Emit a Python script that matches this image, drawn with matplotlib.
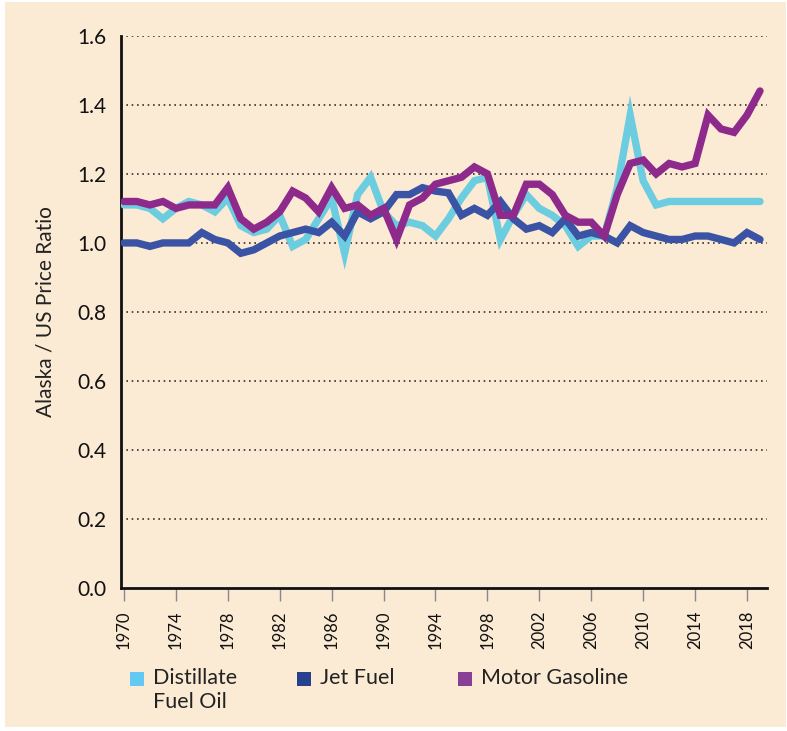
import numpy as np
import matplotlib
matplotlib.use("Agg")
import matplotlib.pyplot as plt
from matplotlib.patches import Rectangle

plt.rcParams['font.family'] = ['Lato', 'DejaVu Sans']

years = np.arange(1970, 2020)

distillate = [1.11, 1.11, 1.10, 1.07, 1.10, 1.12, 1.11, 1.09, 1.13, 1.05,
              1.03, 1.04, 1.08, 0.99, 1.01, 1.07, 1.13, 0.97, 1.14, 1.19,
              1.09, 1.05, 1.06, 1.05, 1.02, 1.07, 1.13, 1.18, 1.19, 1.01,
              1.08, 1.14, 1.10, 1.08, 1.05, 0.99, 1.02, 1.02, 1.16, 1.37,
              1.18, 1.11, 1.12, 1.12, 1.12, 1.12, 1.12, 1.12, 1.12, 1.12]

jet_fuel = [1.00, 1.00, 0.99, 1.00, 1.00, 1.00, 1.03, 1.01, 1.00, 0.97,
            0.98, 1.00, 1.02, 1.03, 1.04, 1.03, 1.06, 1.02, 1.09, 1.07,
            1.09, 1.14, 1.14, 1.16, 1.15, 1.145, 1.08, 1.10, 1.08, 1.12,
            1.07, 1.04, 1.05, 1.03, 1.07, 1.02, 1.03, 1.02, 1.00, 1.05,
            1.03, 1.02, 1.01, 1.01, 1.02, 1.02, 1.01, 1.00, 1.03, 1.01]

motor_gasoline = [1.12, 1.12, 1.11, 1.12, 1.10, 1.11, 1.11, 1.11, 1.16, 1.07,
                  1.04, 1.06, 1.09, 1.15, 1.13, 1.09, 1.16, 1.10, 1.11, 1.08,
                  1.10, 1.01, 1.11, 1.13, 1.17, 1.18, 1.19, 1.22, 1.20, 1.08,
                  1.08, 1.17, 1.17, 1.14, 1.08, 1.06, 1.06, 1.02, 1.14, 1.23,
                  1.24, 1.20, 1.23, 1.22, 1.23, 1.37, 1.33, 1.32, 1.37, 1.44]

labels = ["Distillate\nFuel Oil", "Jet Fuel", "Motor Gasoline"]
line_colors = ["#6dcde0", "#3a53a5", "#8e2a8c"]
swatch_colors = ["#62c9f3", "#263f8e", "#8a3f97"]

y_ticks = np.arange(0, 1.61, 0.2)
x_ticks = np.arange(1970, 2019, 4)

bg = "#fcebd4"
W, H = 787, 731
fig = plt.figure(figsize=(W / 100, H / 100), dpi=100, facecolor="white")
# beige panel behind everything
fig.patches.append(Rectangle((5 / W, 4 / H), 781 / W, 725 / H,
                             transform=fig.transFigure, facecolor=bg,
                             edgecolor="none", zorder=-10))

ax = fig.add_axes([120.7 / W, 1 - 588.3 / H, (767 - 120.7) / W, (588.3 - 35.7) / H])
ax.set_facecolor(bg)

for vals, col in zip([distillate, jet_fuel, motor_gasoline], line_colors):
    ax.plot(years, vals, color=col, lw=5.3, solid_capstyle="round",
            solid_joinstyle="miter", zorder=3)

ax.set_xlim(1969.75, 2019.54)
ax.set_ylim(0, 1.6)
ax.set_yticks(y_ticks)
ax.set_yticklabels([f"{v:.1f}" for v in y_ticks], fontsize=15)
ax.set_xticks(x_ticks)
ax.set_xticklabels([str(y) for y in x_ticks], rotation=90, fontsize=12)

ax.tick_params(axis="y", length=0, pad=10, colors="#111111")
ax.tick_params(axis="x", length=9, width=1, color="#888888", pad=7, labelcolor="#111111")

for y in y_ticks[1:]:
    ax.axhline(y, color="#333333", lw=1.2, ls=(0, (1, 2.2)), zorder=1)

for s in ["top", "right"]:
    ax.spines[s].set_visible(False)
for s in ["left", "bottom"]:
    ax.spines[s].set_linewidth(2)
    ax.spines[s].set_color("#111111")

ax.set_ylabel("Alaska / US Price Ratio", fontsize=15, labelpad=16, color="#222222")

# legend drawn by hand so the square sits on the first text line
leg_x = [130, 297, 458]
for label, swatch, x0 in zip(labels, swatch_colors, leg_x):
    fig.patches.append(Rectangle((x0 / W, 1 - 686 / H), 14 / W, 14 / H,
                                 transform=fig.transFigure, facecolor=swatch,
                                 edgecolor="none"))
    fig.text((x0 + 23) / W, 1 - 668 / H, label, fontsize=15.5, color="#222222",
             va="top", ha="left", linespacing=1.25)

fig.savefig("out.png", dpi=100, facecolor="white")
